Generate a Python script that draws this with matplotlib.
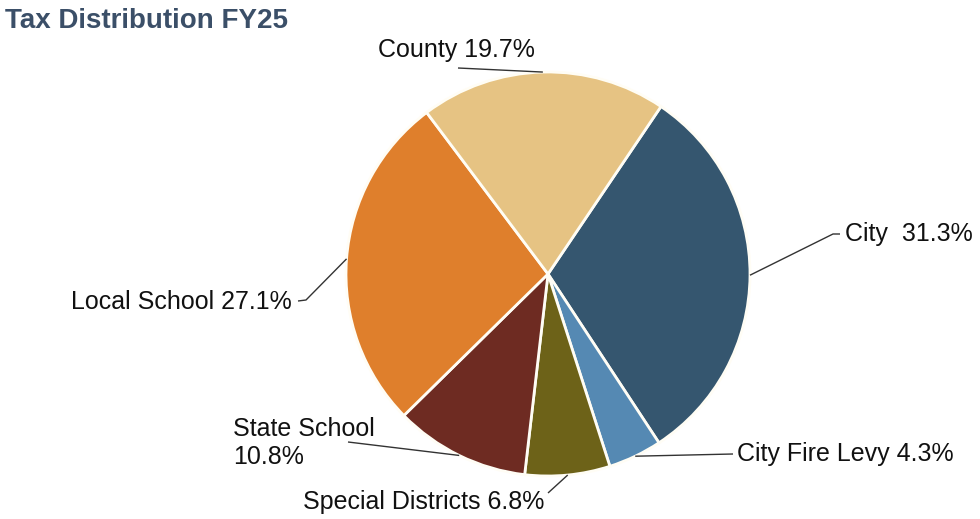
import matplotlib
matplotlib.use("Agg")
import matplotlib.pyplot as plt
import numpy as np

plt.rcParams['font.family'] = ['Liberation Sans', 'DejaVu Sans']

categories = ["City", "City Fire Levy", "Special Districts", "State School", "Local School", "County"]
values = [31.3, 4.3, 6.8, 10.8, 27.1, 19.7]
label_texts = ["City  31.3%", "City Fire Levy 4.3%", "Special Districts 6.8%",
               "State School\n10.8%", "Local School 27.1%", "County 19.7%"]
colors = ["#35566f", "#5589b3", "#6d6218", "#6e2b22", "#df7f2c", "#e6c383"]

W, H = 980, 519
fig = plt.figure(figsize=(W / 100, H / 100), dpi=100)
ax = fig.add_axes([0, 0, 1, 1])
ax.set_xlim(0, W)
ax.set_ylim(0, H)
ax.set_aspect('equal')
ax.axis('off')

cx, cy, R = 548, H - 274, 202
wedges, _ = ax.pie(values, colors=colors, startangle=56, counterclock=False,
                   center=(cx, cy), radius=R, frame=True,
                   wedgeprops=dict(edgecolor="#fffdf5", linewidth=2))
ax.set_xlim(0, W)
ax.set_ylim(0, H)
ax.axis('off')

# label layout: (elbow points in pixel coords from top, text position, ha)
layout = [
    ([(833, 234), (840, 234)], (845, 234), 'left', 'center'),
    ([(733, 454)], (737, 454), 'left', 'center'),
    ([(548, 493)], (303, 502), 'left', 'center'),
    ([(348, 442)], (233, 443), 'left', 'center'),
    ([(306, 300), (298, 301)], (292, 302), 'right', 'center'),
    ([(458, 68)], (378, 50), 'left', 'center'),
]

for w, txt, (pts, tpos, ha, va) in zip(wedges, label_texts, layout):
    mid = np.deg2rad((w.theta1 + w.theta2) / 2)
    ax_x = cx + R * np.cos(mid)
    ax_y = cy + R * np.sin(mid)
    xs = [ax_x] + [p[0] for p in pts]
    ys = [ax_y] + [H - p[1] for p in pts]
    ax.plot(xs, ys, color="#333333", lw=1.0, solid_capstyle='butt')
    ax.text(tpos[0], H - tpos[1], txt, ha=ha, va=va, fontsize=18,
            color="#111111", linespacing=1.25)

fig.text(5 / W, 1 - 21 / H, "Tax Distribution FY25", fontsize=20,
         fontweight='bold', color="#3b4f68", ha='left', va='center')

fig.savefig("out.png", dpi=100, facecolor="white")
